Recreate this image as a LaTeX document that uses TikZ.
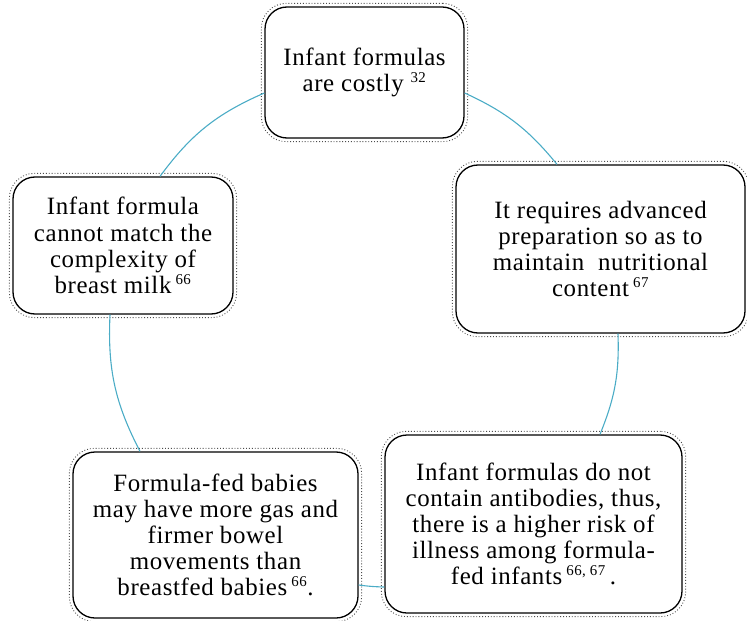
\documentclass[tikz,border=0pt]{standalone}
\usepackage{fontspec}
\setmainfont[LetterSpace=2.5]{Liberation Serif}
\usetikzlibrary{fit}
\definecolor{linkblue}{HTML}{4BACC6}
\newcommand\refsup[1]{\textsuperscript{\fontsize{15}{15}\selectfont #1}}
\tikzset{
  card/.style={draw=black, line width=1.3bp, rounded corners=22bp, fill=white,
    align=center, inner sep=0pt, font=\fontsize{25}{26.2}\selectfont},
  cardshadow/.style={draw=black!70, dotted, line width=0.9bp, rounded corners=25bp, inner sep=3bp},
  link/.style={draw=linkblue, line width=1.1bp}
}
\begin{document}
\begin{tikzpicture}[x=1bp,y=1bp]
\useasboundingbox (0,0) rectangle (747,-621);
\node[card, minimum width=199bp, minimum height=131bp] (top) at (364.5,-72.5)
  {Infant formulas\\are costly \refsup{32}};
\node[card, minimum width=289bp, minimum height=168bp] (right) at (600.5,-249)
  {It requires advanced\\preparation so as to\\maintain~ nutritional\\content\,\refsup{67}};
\node[card, minimum width=220bp, minimum height=137bp] (left) at (123,-245.5)
  {Infant formula\\cannot match the\\complexity of\\breast milk\,\refsup{66}};
\node[card, minimum width=285bp, minimum height=166bp] (botleft) at (215.5,-535)
  {Formula-fed babies\\may have more gas and\\firmer bowel\\movements than\\breastfed babies\,\refsup{66}.};
\node[card, minimum width=297bp, minimum height=178bp] (botright) at (533.5,-524)
  {Infant formulas do not\\contain antibodies, thus,\\there is a higher risk of\\illness among formula-\\fed infants\,\refsup{66, 67}\,.};
\node[cardshadow, fit=(top)] (topshadow) {};
\node[cardshadow, fit=(right)] (rightshadow) {};
\node[cardshadow, fit=(left)] (leftshadow) {};
\node[cardshadow, fit=(botleft)] (botleftshadow) {};
\node[cardshadow, fit=(botright)] (botrightshadow) {};
\draw[link] ([yshift=-20.5bp]top.west) to[bend right=15] ([xshift=37bp]left.north);
\draw[link] ([yshift=-20.5bp]top.east) to[bend left=13] ([xshift=-43.5bp]right.north);
\draw[link] ([xshift=17.5bp]right.south) to[bend left=12] ([xshift=66.5bp]botright.north);
\draw[link] ([yshift=-63bp]botright.west) to[bend left=3] ([yshift=-50bp]botleft.east);
\draw[link] ([xshift=-75.5bp]botleft.north) to[bend left=15] ([xshift=-13bp]left.south);
\end{tikzpicture}
\end{document}
